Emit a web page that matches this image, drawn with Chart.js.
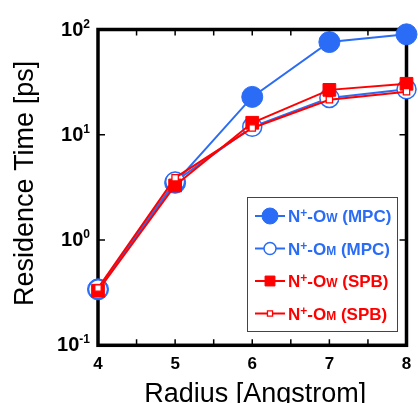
<!DOCTYPE html>
<html>
<head>
<meta charset="utf-8">
<script src="https://cdn.jsdelivr.net/npm/chart.js@4.4.1/dist/chart.umd.min.js"></script>
<style>
  html, body { margin: 0; padding: 0; background: #fff; }
</style>
</head>
<body>
<canvas id="chart" width="418" height="403"></canvas>
<script>
// Values
const radius = [4, 5, 6, 7, 8];
const mpcOw = [0.34, 3.5, 22.9, 76, 90];
const mpcOm = [0.34, 3.6, 11.9, 22.4, 27];
const spbOw = [0.33, 3.3, 13.0, 26.7, 30.5];
const spbOm = [0.35, 3.9, 11.6, 21.5, 25.6];

// Axis ticks
const xTicks = [4, 5, 6, 7, 8];
const xMinorTicks = [4.5, 5.5, 6.5, 7.5];
const yTicks = [0.1, 1, 10, 100];
const yExponents = ["-1", "0", "1", "2"];

// Legend pieces: N+-O<sub> (<tag>)
const legendSub = ["W", "M", "W", "M"];
const legendTag = ["(MPC)", "(MPC)", "(SPB)", "(SPB)"];

const BLUE = "#2a6cf6";
const RED = "#ff0000";
const FONT = '"Liberation Sans", Arial, sans-serif';

function toPoints(values) {
  return radius.map((r, i) => ({ x: r, y: values[i] }));
}

// Frame and inward ticks, drawn under the markers
const framePlugin = {
  id: "frame",
  beforeDatasetsDraw(chart) {
    const { ctx, chartArea: a, scales } = chart;
    ctx.save();
    ctx.strokeStyle = "#000";
    ctx.lineWidth = 1.5;
    ctx.beginPath();
    xTicks.concat(xMinorTicks).forEach((t) => {
      const px = scales.x.getPixelForValue(t);
      ctx.moveTo(px, a.bottom);
      ctx.lineTo(px, a.bottom - 6);
      ctx.moveTo(px, a.top);
      ctx.lineTo(px, a.top + 6);
    });
    yTicks.forEach((t) => {
      const py = scales.y.getPixelForValue(t);
      ctx.moveTo(a.left, py);
      ctx.lineTo(a.left + 7, py);
      ctx.moveTo(a.right, py);
      ctx.lineTo(a.right - 7, py);
    });
    ctx.stroke();

    ctx.lineWidth = 3.5;
    ctx.strokeRect(a.left, a.top, a.right - a.left, a.bottom - a.top);
    ctx.restore();
  },
  afterDraw(chart) {
    const { ctx, chartArea: a, scales } = chart;
    ctx.save();
    ctx.fillStyle = "#000";

    // x tick labels
    ctx.font = "bold 17px " + FONT;
    ctx.textAlign = "center";
    ctx.textBaseline = "alphabetic";
    xTicks.forEach((t) => {
      ctx.fillText(String(t), scales.x.getPixelForValue(t), a.bottom + 24);
    });

    // y tick labels as 10 with a raised exponent
    ctx.textAlign = "left";
    yTicks.forEach((t, i) => {
      const py = scales.y.getPixelForValue(t);
      ctx.font = "bold 12px " + FONT;
      const ew = ctx.measureText(yExponents[i]).width;
      const ex = a.left - 8 - ew;
      ctx.fillText(yExponents[i], ex, py - 2);
      ctx.font = "bold 20px " + FONT;
      const bw = ctx.measureText("10").width;
      ctx.fillText("10", ex - bw, py + 6);
    });

    // axis titles
    ctx.font = "27px " + FONT;
    ctx.textAlign = "center";
    ctx.fillText("Radius [Angstrom]", (a.left + a.right) / 2 + 3, 402);
    ctx.save();
    ctx.translate(33, (a.top + a.bottom) / 2 - 4);
    ctx.rotate(-Math.PI / 2);
    ctx.fillText("Residence Time [ps]", 0, 0);
    ctx.restore();

    // legend box
    const box = { x: 247.5, y: 197.5, w: 150, h: 134 };
    ctx.fillStyle = "#fff";
    ctx.fillRect(box.x, box.y, box.w, box.h);
    ctx.strokeStyle = "#444";
    ctx.lineWidth = 1;
    ctx.strokeRect(box.x, box.y, box.w, box.h);

    const legendMarkers = [
      { style: "circle", r: 8 },
      { style: "circle", r: 6 },
      { style: "rect", r: 7 },
      { style: "rect", r: 3.6 },
    ];
    chart.data.datasets.forEach((ds, i) => {
      const cy = 216 + i * 32.5;
      ctx.strokeStyle = ds.borderColor;
      ctx.lineWidth = ds.borderWidth;
      ctx.beginPath();
      ctx.moveTo(255, cy);
      ctx.lineTo(285, cy);
      ctx.stroke();

      ctx.fillStyle = ds.pointBackgroundColor;
      ctx.strokeStyle = ds.pointBorderColor;
      ctx.lineWidth = ds.pointBorderWidth;
      ctx.beginPath();
      if (legendMarkers[i].style === "circle") {
        ctx.arc(270, cy, legendMarkers[i].r, 0, Math.PI * 2);
      } else {
        const s = legendMarkers[i].r * Math.SQRT1_2;
        ctx.rect(270 - s, cy - s, 2 * s, 2 * s);
      }
      ctx.fill();
      ctx.stroke();

      // label text
      let x = 288;
      const y = cy + 6;
      ctx.fillStyle = ds.borderColor;
      ctx.textAlign = "left";
      ctx.font = "bold 17px " + FONT;
      ctx.fillText("N", x, y);
      x += ctx.measureText("N").width;
      ctx.font = "bold 12px " + FONT;
      ctx.fillText("+", x, y - 5);
      x += ctx.measureText("+").width;
      ctx.font = "bold 17px " + FONT;
      ctx.fillText("-O", x, y);
      x += ctx.measureText("-O").width;
      ctx.font = "bold 12px " + FONT;
      ctx.fillText(legendSub[i], x, y);
      x += ctx.measureText(legendSub[i]).width;
      ctx.font = "bold 17px " + FONT;
      ctx.fillText(" " + legendTag[i], x, y);
    });
    ctx.restore();
  },
};

const ctx = document.getElementById("chart").getContext("2d");
new Chart(ctx, {
  type: "line",
  data: {
    datasets: [
      {
        label: "N+-OW (MPC)",
        data: toPoints(mpcOw),
        borderColor: BLUE,
        borderWidth: 2,
        pointStyle: "circle",
        pointRadius: 10.5,
        pointBackgroundColor: BLUE,
        pointBorderColor: BLUE,
        pointBorderWidth: 1,
        order: 3,
      },
      {
        label: "N+-OM (MPC)",
        data: toPoints(mpcOm),
        borderColor: BLUE,
        borderWidth: 2,
        pointStyle: "circle",
        pointRadius: 9.5,
        pointBackgroundColor: "#fff",
        pointBorderColor: BLUE,
        pointBorderWidth: 1.5,
        order: 2,
      },
      {
        label: "N+-OW (SPB)",
        data: toPoints(spbOw),
        borderColor: RED,
        borderWidth: 2,
        pointStyle: "rect",
        pointRadius: 9,
        pointBackgroundColor: RED,
        pointBorderColor: RED,
        pointBorderWidth: 1,
        order: 1,
      },
      {
        label: "N+-OM (SPB)",
        data: toPoints(spbOm),
        borderColor: RED,
        borderWidth: 2,
        pointStyle: "rect",
        pointRadius: 4.5,
        pointBackgroundColor: "#fff",
        pointBorderColor: RED,
        pointBorderWidth: 1.3,
        order: 0,
      },
    ],
  },
  options: {
    responsive: false,
    animation: false,
    devicePixelRatio: 1,
    clip: false,
    layout: {
      padding: { left: 98, right: 4, top: 29.5, bottom: 57.7 },
    },
    elements: { line: { tension: 0 } },
    scales: {
      x: { type: "linear", min: 4, max: 8, display: false },
      y: { type: "logarithmic", min: 0.1, max: 100, display: false },
    },
    plugins: {
      legend: { display: false },
      tooltip: { enabled: false },
    },
  },
  plugins: [framePlugin],
});
</script>
</body>
</html>
